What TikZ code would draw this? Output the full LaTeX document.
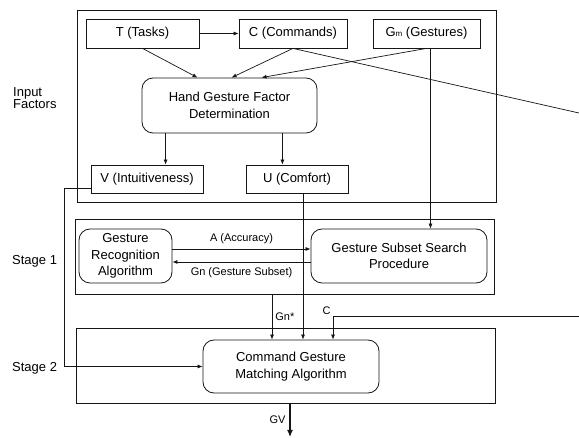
\documentclass[tikz,border=0pt]{standalone}
\usepackage{fontspec}
\setmainfont{Liberation Sans}
\usetikzlibrary{
  arrows.meta,
  positioning,
  calc
}
\definecolor{Ink}{HTML}{151515}
\newcommand{\mainfs}{\fontsize{13}{16.5}\selectfont}
\newcommand{\labelfs}{\fontsize{11}{12}\selectfont}

\begin{document}
\begin{tikzpicture}[
  x=1pt,
  y=-1pt,
  >={Latex[length=5pt,width=4pt]},
  factor/.style={
    draw=Ink,
    line width=0.8pt,
    minimum height=29pt,
    inner sep=0pt,
    font=\mainfs
  },
  process/.style={
    draw=Ink,
    line width=0.8pt,
    rounded corners=11pt,
    inner sep=0pt,
    align=center,
    font=\mainfs
  },
  frame/.style={draw=Ink,line width=0.8pt,inner sep=0pt},
  sidelabel/.style={anchor=west,align=left,inner sep=0pt,font=\mainfs},
  flowlabel/.style={inner sep=0pt,font=\labelfs},
  relation/.style={->,draw=Ink,line width=0.7pt},
  link/.style={draw=Ink,line width=0.7pt},
  output/.style={-{Latex[length=7pt,width=6pt]},draw=Ink,line width=1.1pt}
]
\useasboundingbox (0,0) rectangle (579,438);

% frames
\node[frame,minimum width=419pt,minimum height=192pt] (inputs) at (286.5,106) {};
\node[frame,minimum width=419pt,minimum height=75pt] (stage1) at (284.5,256.5) {};
\node[frame,minimum width=419pt,minimum height=75pt] (stage2) at (285.5,365.5) {};

\node[sidelabel] (inlabel) at (13,98) {Input\\[-4pt]Factors};
\node[sidelabel] (s1label) at (12,261) {Stage 1};
\node[sidelabel] (s2label) at (12,368) {Stage 2};

% input factors
\node[factor,minimum width=113pt] (tasks) at (142.5,33.5) {T (Tasks)};
\node[factor,minimum width=108pt] (commands) at (293,33.5) {C (Commands)};
\node[factor,minimum width=107pt] (gestures) at (426.5,33.5)
  {G{\fontsize{8}{8}\selectfont m} (Gestures)};
\node[process,minimum width=175pt,minimum height=55pt] (hgfd) at (229.5,105.5)
  {Hand Gesture Factor\\Determination};
\node[factor,minimum width=112pt,minimum height=28pt] (intuit) at (147,179)
  {V (Intuitiveness)};
\node[factor,minimum width=102pt,minimum height=28pt] (comfort) at (297,179)
  {U (Comfort)};

% stage 1 and stage 2
\node[process,minimum width=93pt,minimum height=54pt] (recog) at (125.5,256)
  {Gesture\\Recognition\\Algorithm};
\node[process,minimum width=176pt,minimum height=54pt] (search) at (399,256)
  {Gesture Subset Search\\Procedure};
\node[process,minimum width=176pt,minimum height=53pt] (match) at (291,366.5)
  {Command Gesture\\Matching Algorithm};

\coordinate (cexit) at (579,113);
\coordinate (centry) at (579,316);
\coordinate (gv) at (290,437);

\draw[relation] (tasks) -- (commands);
\draw[relation] (tasks.south) -- ($(hgfd.north)+(-32,0)$);
\draw[relation] (commands.south) -- ($(hgfd.north)+(2,0)$);
\draw[relation] (gestures.south) -- ($(hgfd.north)+(32,0)$);
\draw[link] (commands.south) -- (cexit);

\draw[relation] ($(hgfd.south west)+(24,0)$) coordinate (hv) -- (hv |- intuit.north);
\draw[relation] ($(hgfd.south east)+(-35,0)$) coordinate (hu) -- (hu |- comfort.north);

\draw[relation] ($(gestures.south)+(4,0)$) coordinate (gm) -- (gm |- search.north);

\draw[relation] ($(recog.east)+(0,-7)$) coordinate (ra) -- (ra -| search.west)
  node[flowlabel,midway,above=5pt] {A (Accuracy)};
\draw[relation] ($(search.west)+(0,6)$) coordinate (sg) -- (sg -| recog.east)
  node[flowlabel,midway,below=5pt] {Gn (Gesture Subset)};

\draw[relation] ($(stage1.south)+(-12.5,0)$) coordinate (gn) -- (gn |- match.north)
  node[flowlabel,midway,right=3pt] {Gn*};
\draw[relation] ($(comfort.south)+(6,0)$) coordinate (uc) -- (uc |- match.north);
\draw[relation] (centry) -| ($(match.north)+(42,0)$)
  node[flowlabel,pos=0.5,anchor=south east,xshift=-2pt,yshift=1pt] {C};
\draw[relation] ($(intuit.west)+(0,9)$) -- ++(-26,0) |- (match.west);

\draw[output] (stage2.south -| gv) -- (gv)
  node[flowlabel,midway,left=4pt] {GV};
\end{tikzpicture}
\end{document}
